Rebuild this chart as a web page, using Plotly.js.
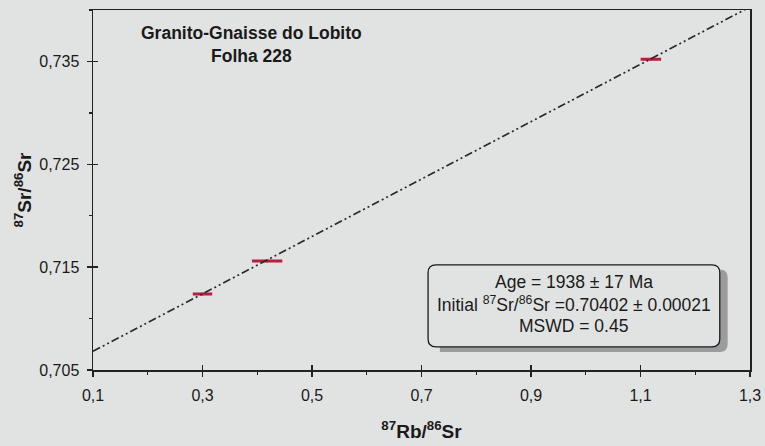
<!DOCTYPE html>
<html>
<head>
<meta charset="utf-8">
<script src="https://cdn.plot.ly/plotly-3.0.1.min.js"></script>
<style>html,body{margin:0;padding:0;background:#e1e3e2;}</style>
</head>
<body>
<div id="chart" style="width:765px;height:446px;"></div>
<script>
// Sample data
var rbSr = [0.300, 0.418, 1.119];
var srSr = [0.71240, 0.71560, 0.73522];
var rbSrErr = [0.015, 0.025, 0.016];
var srSrErr = [0.00008, 0.00008, 0.00008];

// Isochron line end points
var isoX = [0.1, 1.3];
var isoY = [0.70682, 0.74030];

// Tick values / labels
var xTicks = [0.1, 0.3, 0.5, 0.7, 0.9, 1.1, 1.3];
var xLabels = ["0,1", "0,3", "0,5", "0,7", "0,9", "1,1", "1,3"];
var yTicks = [0.705, 0.715, 0.725, 0.735];
var yLabels = ["0,705", "0,715", "0,725", "0,735"];

var titleLines = ["Granito-Gnaisse do Lobito", "Folha 228"];
var resultLines = ["Age = 1938 ± 17 Ma",
  "Initial <sup>87</sup>Sr/<sup>86</sup>Sr =0.70402 ± 0.00021",
  "MSWD = 0.45"];

var FONT = "'Liberation Sans', Arial, sans-serif";
var bg = "#e1e3e2";

var traces = [
  {
    x: isoX, y: isoY, xaxis: "x2", yaxis: "y2",
    mode: "lines", type: "scatter",
    line: {color: "#2a2a2a", width: 1.7, dash: "8px,3px,2px,3px,2px,3px"},
    hoverinfo: "skip", showlegend: false
  },
  {
    x: rbSr, y: srSr, mode: "markers", type: "scatter",
    marker: {size: 3, color: "#b81f3c"},
    error_x: {type: "data", array: rbSrErr, visible: true, color: "#b81f3c", thickness: 3, width: 1.5},
    error_y: {type: "data", array: srSrErr, visible: true, color: "#b81f3c", thickness: 1.5, width: 0},
    showlegend: false
  }
];

var xr = [0.1, 1.3], yr = [0.705, 0.740];

var layout = {
  width: 765, height: 446,
  paper_bgcolor: bg, plot_bgcolor: bg,
  margin: {l: 93, r: 15, t: 10, b: 76},
  separators: ",.",
  font: {family: FONT, color: "#1a1a1a", size: 16},
  showlegend: false,
  xaxis: {
    range: xr, tickmode: "array", tickvals: xTicks, ticktext: xLabels,
    ticks: "outside", ticklen: 5, tickcolor: "#222", tickwidth: 1.3,
    minor: {tickmode: "linear", tick0: 0.1, dtick: 0.1, ticks: "outside", ticklen: 3, tickcolor: "#222"},
    showgrid: false, zeroline: false,
    showline: true, linecolor: "#222", linewidth: 1.5, mirror: true,
    ticklabelstandoff: 5,
    tickfont: {size: 16, family: FONT},
    title: {text: "<b><sup>87</sup>Rb/<sup>86</sup>Sr</b>", font: {size: 19, family: FONT}, standoff: 22}
  },
  yaxis: {
    range: yr, tickmode: "array", tickvals: yTicks, ticktext: yLabels,
    ticks: "outside", ticklen: 5, tickcolor: "#222", tickwidth: 1.3,
    minor: {tickmode: "linear", tick0: 0.705, dtick: 0.005, ticks: "outside", ticklen: 3, tickcolor: "#222"},
    showgrid: false, zeroline: false,
    showline: true, linecolor: "#222", linewidth: 1.5, mirror: true,
    ticklabelstandoff: 4,
    tickfont: {size: 16, family: FONT},
    title: {text: "<b><sup>87</sup>Sr/<sup>86</sup>Sr</b>", font: {size: 19, family: FONT}, standoff: 2}
  },
  xaxis2: {
    range: xr, overlaying: "x", side: "bottom", anchor: "y2",
    tickmode: "array", tickvals: xTicks, showticklabels: false,
    ticks: "inside", ticklen: 5, tickcolor: "#222", tickwidth: 1.3,
    showgrid: false, zeroline: false, showline: false
  },
  yaxis2: {
    range: yr, overlaying: "y", side: "left", anchor: "x2",
    tickmode: "array", tickvals: yTicks, showticklabels: false,
    ticks: "inside", ticklen: 5, tickcolor: "#222", tickwidth: 1.3,
    showgrid: false, zeroline: false, showline: false
  },
  shapes: [
    // shadow
    {type: "path", xref: "paper", yref: "paper",
     path: "M 0.528,0.279 L 0.954,0.279 Q 0.966,0.279 0.966,0.257 L 0.966,0.072 Q 0.966,0.050 0.954,0.050 L 0.528,0.050 Z",
     fillcolor: "#9c9c9e", line: {width: 0}, layer: "above"},
    // box
    {type: "path", xref: "paper", yref: "paper",
     path: "M 0.522,0.292 L 0.942,0.292 Q 0.954,0.292 0.954,0.270 L 0.954,0.086 Q 0.954,0.064 0.942,0.064 L 0.522,0.064 Q 0.510,0.064 0.510,0.086 L 0.510,0.270 Q 0.510,0.292 0.522,0.292 Z",
     fillcolor: bg, line: {color: "#1a1a1a", width: 1.3}, layer: "above"}
  ],
  annotations: [
    {xref: "paper", yref: "paper", x: 0.241, y: 0.935, xanchor: "center", yanchor: "middle",
     text: "<b>" + titleLines[0] + "</b>", showarrow: false, font: {size: 17.5, family: FONT}},
    {xref: "paper", yref: "paper", x: 0.241, y: 0.872, xanchor: "center", yanchor: "middle",
     text: "<b>" + titleLines[1] + "</b>", showarrow: false, font: {size: 17.5, family: FONT}},
    {xref: "paper", yref: "paper", x: 0.7315, y: 0.244, xanchor: "center", yanchor: "middle",
     text: resultLines[0], showarrow: false, font: {size: 17.5, family: FONT}},
    {xref: "paper", yref: "paper", x: 0.7315, y: 0.183, xanchor: "center", yanchor: "middle",
     text: resultLines[1], showarrow: false, font: {size: 17.5, family: FONT}},
    {xref: "paper", yref: "paper", x: 0.7315, y: 0.122, xanchor: "center", yanchor: "middle",
     text: resultLines[2], showarrow: false, font: {size: 17.5, family: FONT}}
  ]
};

Plotly.newPlot("chart", traces, layout, {displayModeBar: false, staticPlot: true});
</script>
</body>
</html>
